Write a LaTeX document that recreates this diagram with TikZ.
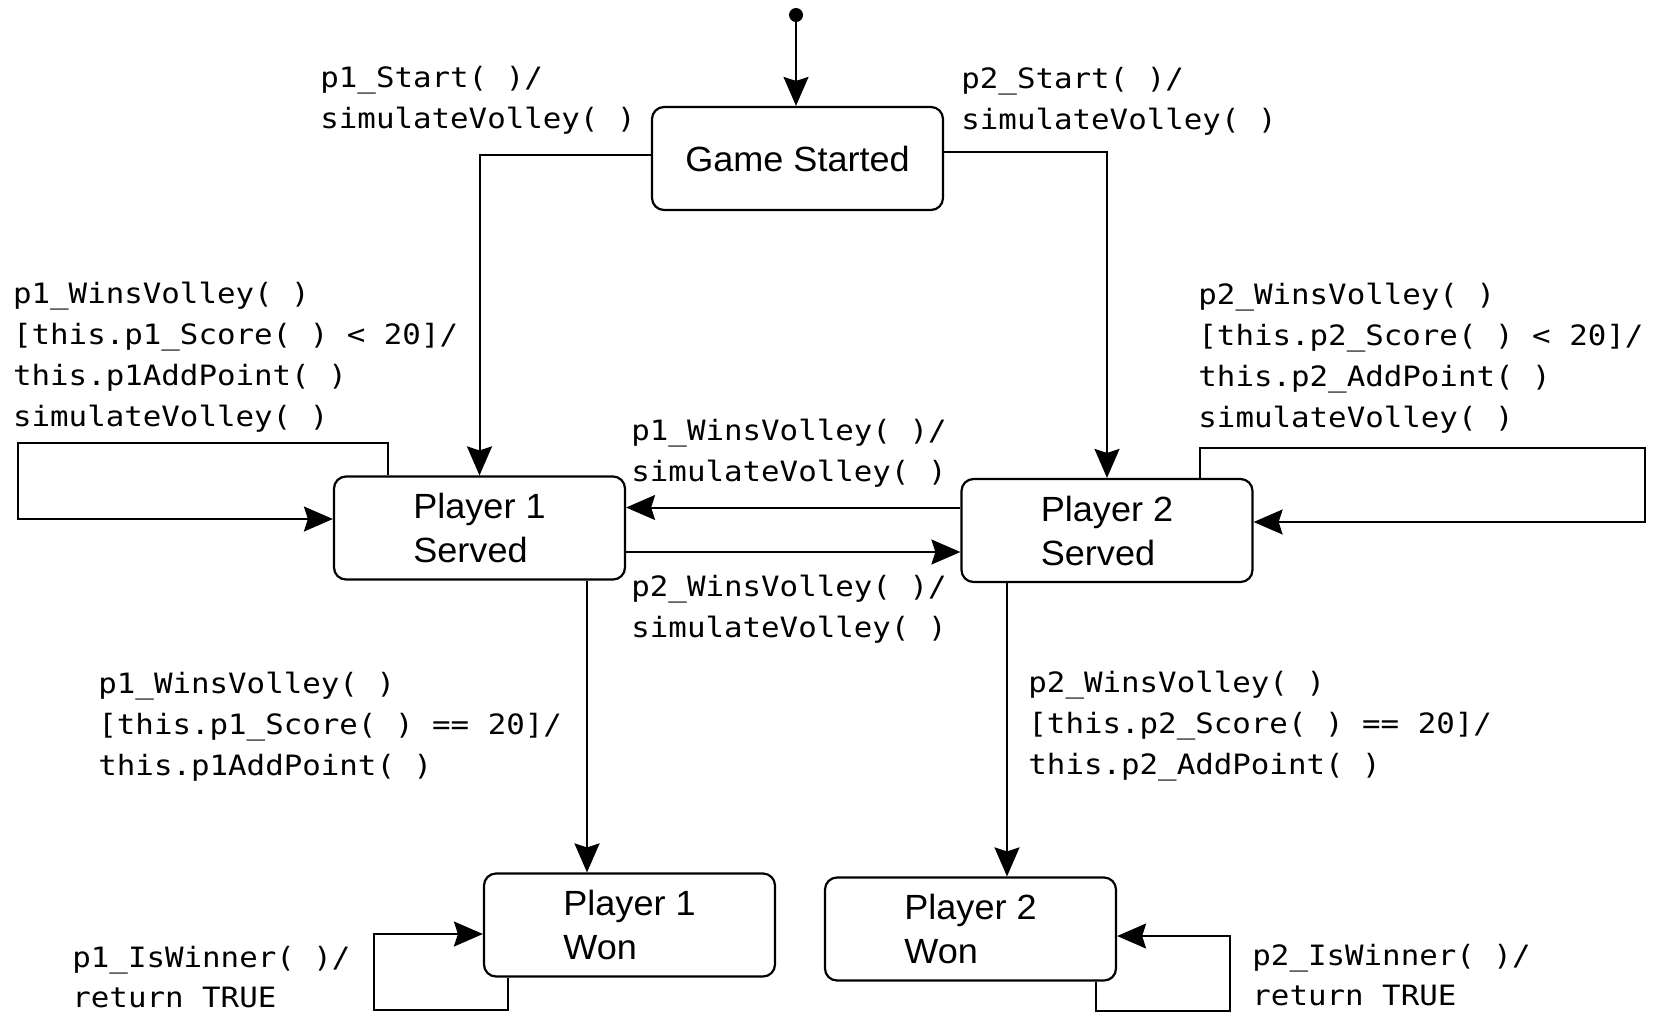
\documentclass[tikz,border=0pt]{standalone}
\usepackage{fontspec}
\usetikzlibrary{arrows.meta}
\newfontfamily\lblfont[FakeStretch=1.1]{DejaVu Sans Mono}
\newfontfamily\stfont[FakeStretch=1.03]{Liberation Sans}
\begin{document}
\begin{tikzpicture}[x=0.5pt,y=-0.5pt,
  statebox/.style={draw, line width=1.1pt, rounded corners=6pt, minimum width=145.5pt,
    minimum height=51.5pt, align=left, inner sep=0pt,
    font=\stfont\fontsize{17.5}{22}\selectfont},
  lab/.style={anchor=west, align=left, inner sep=0pt,
    font=\lblfont\fontsize{14}{20.45}\selectfont},
  conn/.style={line width=1pt, -{Stealth[length=14.5pt,width=12.5pt,inset=2pt]}}]
\useasboundingbox (0,0) rectangle (1658,1013);

\node[circle, fill, inner sep=0pt, minimum size=7pt] (init) at (796,15) {};
\node[statebox] (gs) at (797.5,158.5) {Game Started};
\node[statebox] (p1) at (479.5,528) {Player 1\\Served};
\node[statebox] (p2) at (1107,530.5) {Player 2\\Served};
\node[statebox] (p1w) at (629.5,925) {Player 1\\Won};
\node[statebox] (p2w) at (970.5,929) {Player 2\\Won};

\node[lab] (l1) at (320,100) {p1\_Start( )/\\simulateVolley( )};
\node[lab] (l2) at (961,101) {p2\_Start( )/\\simulateVolley( )};
\node[lab] (l3) at (12.7,357.4) {p1\_WinsVolley( )\\{[this.p1\_Score( ) < 20]/}\\this.p1AddPoint( )\\simulateVolley( )};
\node[lab] (l4) at (1198,358.4) {p2\_WinsVolley( )\\{[this.p2\_Score( ) < 20]/}\\this.p2\_AddPoint( )\\simulateVolley( )};
\node[lab] (l5) at (631,453) {p1\_WinsVolley( )/\\simulateVolley( )};
\node[lab] (l6) at (631,609.5) {p2\_WinsVolley( )/\\simulateVolley( )};
\node[lab] (l7) at (98,727) {p1\_WinsVolley( )\\{[this.p1\_Score( ) == 20]/}\\this.p1AddPoint( )};
\node[lab] (l8) at (1028,726) {p2\_WinsVolley( )\\{[this.p2\_Score( ) == 20]/}\\this.p2\_AddPoint( )};
\node[lab] (l9) at (72,977) {p1\_IsWinner( )/\\return TRUE};
\node[lab] (l10) at (1252,975) {p2\_IsWinner( )/\\return TRUE};

\draw[conn] (init) -- (init |- gs.north);
\draw[conn] (gs.west |- 0,155) -| (p1.north);
\draw[conn] (gs.east |- 0,152) -| (p2.north);
\draw[conn] (p2.west |- 0,507.5) -- (p1.east |- 0,507.5);
\draw[conn] (p1.east |- 0,552) -- (p2.west |- 0,552);
\draw[conn] (p1.north -| 388,0) |- (18,443) |- (p1.west |- 0,519);
\draw[conn] (p2.north -| 1200,0) |- (1645,448) |- (p2.east |- 0,522);
\draw[conn] (p1.south -| 587,0) -- (p1w.north -| 587,0);
\draw[conn] (p2.south -| 1007,0) -- (p2w.north -| 1007,0);
\draw[conn] (p1w.south -| 507.5,0) |- (374,1010) |- (p1w.west |- 0,934);
\draw[conn] (p2w.south -| 1095.5,0) |- (1230,1011) |- (p2w.east |- 0,936);
\end{tikzpicture}
\end{document}
